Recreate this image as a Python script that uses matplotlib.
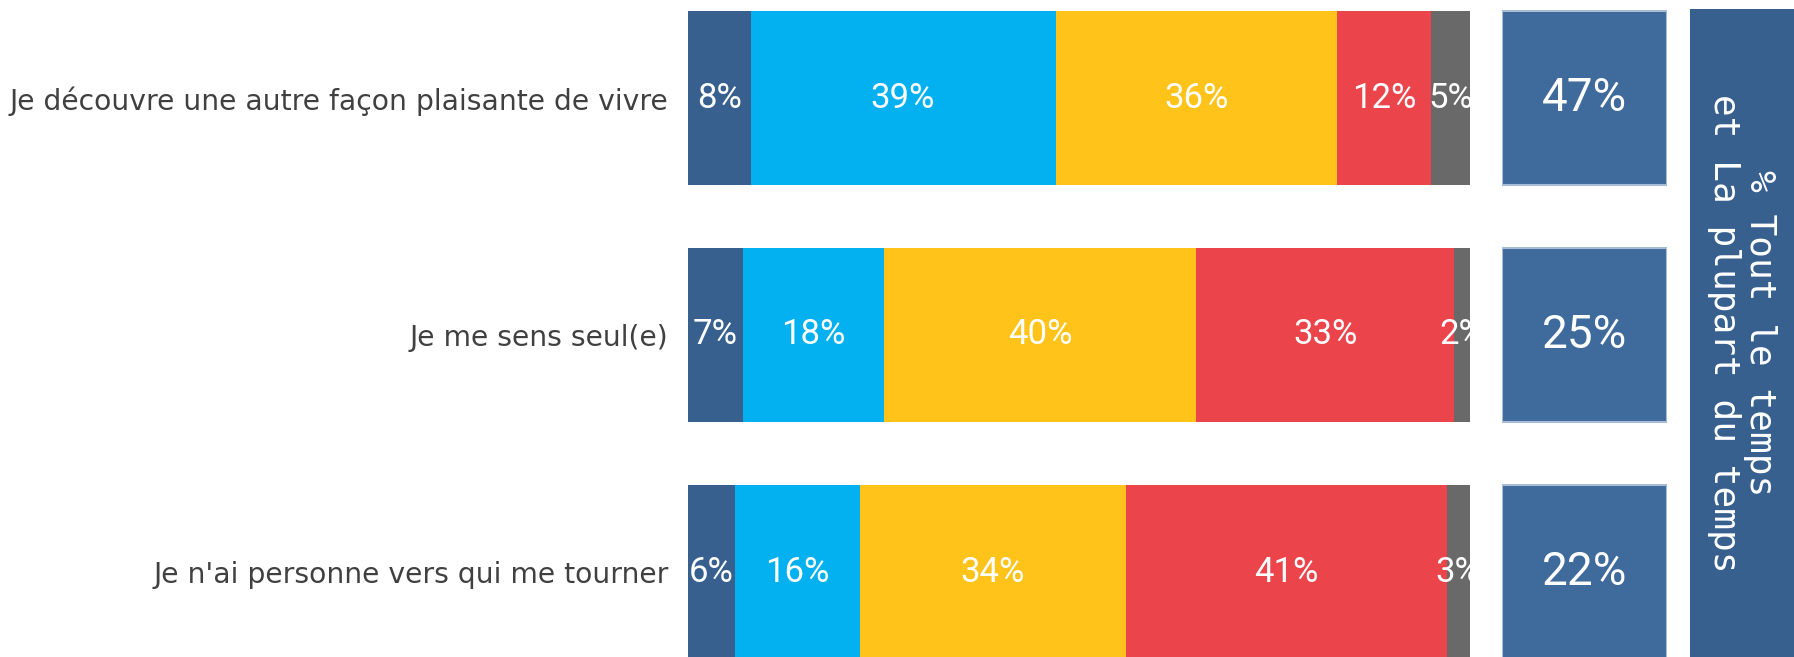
import matplotlib
matplotlib.use('Agg')
import matplotlib.pyplot as plt
import numpy as np

# data
items = ['Je découvre une autre façon plaisante de vivre',
         'Je me sens seul(e)',
         "Je n'ai personne vers qui me tourner"]
tout_le_temps = [8, 7, 6]
plupart = [39, 18, 16]
parfois = [36, 40, 34]
jamais = [12, 33, 41]
nsp = [5, 2, 3]
totals = ['47%', '25%', '22%']
panel_title = '% Tout le temps\net La plupart du temps'

series = [tout_le_temps, plupart, parfois, jamais, nsp]
colors = ['#37608F', '#03B0F0', '#FFC31A', '#EB444A', '#696969']

W, H = 1794, 657
fig = plt.figure(figsize=(W / 100, H / 100), dpi=100)


def px_axes(x0, y0, x1, y1):
    return fig.add_axes([x0 / W, 1 - y1 / H, (x1 - x0) / W, (y1 - y0) / H])


def clean(ax):
    for s in ax.spines.values():
        s.set_visible(False)
    ax.tick_params(length=0)


# stacked bars
ax = px_axes(688, 0, 1470, H)
y = np.arange(len(items))
left = np.zeros(len(items))
for vals, c in zip(series, colors):
    vals = np.array(vals, dtype=float)
    ax.barh(y, vals, left=left, height=0.734, color=c)
    for yi, l, v in zip(y, left, vals):
        ax.text(l + v / 2, yi, '{}%'.format(int(v)), ha='center', va='center',
                color='white', fontsize=25, clip_on=True, family='Roboto')
    left += vals
ax.set_xlim(0, 100)
ax.set_ylim((H - 98) / 237, -98 / 237)
ax.set_yticks(y)
ax.set_yticklabels(items, fontsize=20.3, color='#404040')
ax.tick_params(axis='y', pad=14)
ax.set_xticks([])
clean(ax)

# total boxes
bx = px_axes(1502, 0, 1667, H)
bx.barh(y, [1] * len(items), height=0.734, color='#3F6A9C',
        edgecolor='#A9BCD6', linewidth=1.5)
for yi, t in zip(y, totals):
    bx.text(0.5, yi, t, ha='center', va='center', color='white',
            fontsize=33, family='Roboto')
bx.set_xlim(0, 1)
bx.set_ylim(ax.get_ylim())
bx.set_xticks([])
bx.set_yticks([])
clean(bx)

# side panel
px = px_axes(1690, 9, W, H)
px.set_facecolor('#37608F')
px.set_xticks([])
px.set_yticks([])
clean(px)
px.text(0.5, 0.5, panel_title, rotation=-90, ha='center', va='center',
        multialignment='center', color='white', fontsize=26,
        family='DejaVu Sans Mono', linespacing=1.05, transform=px.transAxes)

plt.savefig('out.png', dpi=100)
